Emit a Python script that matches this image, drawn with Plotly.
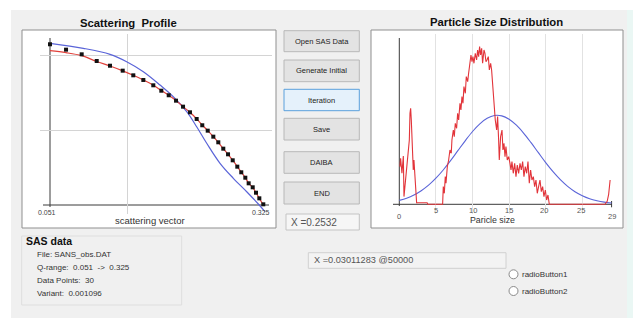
import plotly.graph_objects as go

# ---------------- data ----------------
# Scattering profile (left)
q_obs = [0.0510, 0.0716, 0.0917, 0.1110, 0.1281, 0.1444, 0.1580, 0.1709, 0.1837, 0.1940,
         0.2035, 0.2129, 0.2219, 0.2308, 0.2394, 0.2466, 0.2536, 0.2608, 0.2672, 0.2736,
         0.2797, 0.2857, 0.2916, 0.2967, 0.3019, 0.3062, 0.3114, 0.3156, 0.3199, 0.3250]
logI_obs = [2.143, 2.071, 2.009, 1.920, 1.857, 1.791, 1.729, 1.667, 1.596, 1.524,
            1.463, 1.391, 1.311, 1.236, 1.147, 1.063, 0.991, 0.911, 0.836, 0.751,
            0.676, 0.596, 0.511, 0.436, 0.364, 0.289, 0.236, 0.164, 0.089, 0.009]
logI_fit = [2.057, 2.031, 1.991, 1.913, 1.853, 1.789, 1.729, 1.667, 1.598, 1.526,
            1.463, 1.392, 1.312, 1.236, 1.148, 1.065, 0.992, 0.912, 0.836, 0.752,
            0.676, 0.597, 0.512, 0.437, 0.364, 0.290, 0.234, 0.163, 0.088, 0.000]
q_init = [0.0510, 0.0938, 0.1281, 0.1495, 0.1709, 0.1923, 0.2094, 0.2266, 0.2394, 0.2523,
          0.2694, 0.2865, 0.3037, 0.3186, 0.3272]
logI_init = [2.156, 2.089, 2.009, 1.911, 1.777, 1.600, 1.444, 1.244, 1.044, 0.823,
             0.556, 0.356, 0.177, 0.013, -0.089]

# Particle size distribution (right)
size_dist = [0.09, 0.18, 0.36, 0.55, 0.64, 0.91, 1.09, 1.23, 1.37, 1.46, 1.55, 1.64, 1.73, 1.82,
             1.91, 2.00, 2.14, 2.28, 2.37, 2.40, 3.80, 3.90, 5.92, 6.01, 6.15, 6.28, 6.38, 6.56,
             6.74, 6.92, 7.10, 7.19, 7.38, 7.51, 7.65, 7.83, 7.97, 8.11, 8.29, 8.42, 8.56, 8.70,
             8.83, 9.02, 9.15, 9.34, 9.47, 9.65, 9.79, 9.93, 10.06, 10.20, 10.38, 10.56, 10.70,
             10.84, 10.97, 11.11, 11.25, 11.38, 11.57, 11.70, 11.84, 11.98, 12.16, 12.30, 12.48,
             12.61, 12.75, 12.84, 12.98, 13.11, 13.30, 13.43, 13.57, 13.66, 13.84, 14.03, 14.16,
             14.30, 14.44, 14.57, 14.75, 14.94, 15.12, 15.26, 15.39, 15.57, 15.76, 15.94, 16.12,
             16.30, 16.49, 16.67, 16.85, 17.03, 17.21, 17.40, 17.58, 17.76, 17.94, 18.12, 18.31,
             18.49, 18.67, 18.85, 19.03, 19.22, 19.40, 19.58, 19.76, 19.95, 20.13, 20.31, 20.49,
             28.10, 28.40, 28.60, 28.80]
freq_dist = [37.7, 46.0, 31.0, 48.3, 7.7, 27.7, 41.0, 54.3, 64.3, 91.0, 96.0, 84.3, 64.3, 47.7,
             34.3, 44.3, 27.7, 14.3, 1.0, 1.5, 1.5, 0.0, 0.0, 17.7, 11.0, 27.7, 21.0, 37.7,
             44.3, 54.3, 51.0, 64.3, 74.3, 67.7, 81.0, 76.0, 91.0, 84.3, 101.0, 94.3, 107.7, 101.0,
             117.7, 111.0, 127.7, 122.7, 131.0, 141.0, 149.3, 142.7, 147.7, 141.0, 151.0, 144.3, 154.3,
             147.7, 157.7, 149.3, 156.0, 141.0, 154.3, 151.0, 142.7, 144.3, 147.7, 134.3, 141.0,
             134.3, 117.7, 111.0, 97.7, 84.3, 74.3, 87.7, 64.3, 44.3, 67.7, 74.3, 54.3,
             61.0, 47.7, 57.7, 44.3, 47.7, 41.0, 34.3, 42.7, 31.0, 41.0, 27.7, 39.3,
             31.0, 41.0, 34.3, 42.7, 27.7, 37.7, 31.0, 42.7, 21.0, 34.3, 24.3, 27.7,
             17.7, 24.3, 11.0, 17.7, 24.3, 12.7, 17.7, 7.7, 14.3, 4.3, 9.3, 0.0,
             0.0, 3.0, 10.0, 24.3]
size_init = list(range(0, 30))
freq_init = [3.9, 6.1, 9.3, 13.6, 19.1, 26.1, 34.3, 43.6, 53.6, 63.5, 72.8, 80.5, 86.0, 88.8,
             88.4, 85.1, 79.1, 71.0, 61.6, 51.6, 41.7, 32.6, 24.6, 17.9, 12.6, 8.6, 5.6, 3.6,
             2.2, 1.3]

left_ticks = ["0.051", "0.325"]
right_ticks = ["0", "5", "10", "15", "20", "25", "29"]
button_labels = ["Open SAS Data", "Generate Initial", "Iteration", "Save", "DAIBA", "END"]
info_lines = ["File: SANS_obs.DAT", "Q-range:\u00a0 0.051\u00a0 ->\u00a0 0.325",
              "Data Points:\u00a0 30", "Variant:\u00a0 0.001096"]

# ---------------- layout helpers ----------------
W, H = 633, 323
def PX(x): return x / W
def PY(y): return 1 - y / H

UI = "Liberation Sans, Arial, sans-serif"
shapes = []
ann = []

def rect(x0, y0, x1, y1, fill, line=None, lw=1, layer="below"):
    shapes.append(dict(type="rect", xref="paper", yref="paper",
                       x0=PX(x0), x1=PX(x1), y0=PY(y1), y1=PY(y0),
                       fillcolor=fill, line=dict(color=line or fill, width=lw if line else 0),
                       layer=layer))

def text(x, y, s, size=9, color="#222", bold=False, xanchor="center", yanchor="middle"):
    ann.append(dict(xref="paper", yref="paper", x=PX(x), y=PY(y), text=("<b>%s</b>" % s) if bold else s,
                    showarrow=False, xanchor=xanchor, yanchor=yanchor,
                    font=dict(family=UI, size=size, color=color)))

# background
rect(0, 0, 633, 323, "#ffffff")
rect(11, 10, 627, 318, "#f0f0f0")
rect(627, 10, 633, 318, "#eaf7f4")
# panels
rect(22, 30, 276, 228, "#ffffff", "#8f8f8f")
rect(371, 30, 623, 228, "#ffffff", "#8f8f8f")

# buttons
btn_y = [(30.7, 51.7), (60, 81.7), (89.3, 110.7), (118.3, 140), (151.7, 173.3), (182, 204)]
for lab, (y0, y1) in zip(button_labels, btn_y):
    if lab == "Iteration":
        rect(284, y0, 359.3, y1, "#e5f1fb", "#5aa0dc")
    else:
        rect(284, y0, 359.3, y1, "#e3e3e3", "#b8b8b8")
    text(321.6, (y0 + y1) / 2, lab, size=7.5)

# text boxes
rect(286, 214, 359.3, 230, "#f6f6f6", "#c4c4c4")
text(289, 222, "X =0.2532", size=10, color="#555", xanchor="left")
rect(308.3, 252.7, 506, 268.3, "#f3f3f3", "#d0d0d0")
text(312, 260, "X =0.03011283 @50000", size=9.2, color="#555", xanchor="left")

# SAS data group
rect(21.7, 236, 181.7, 305, "#f0f0f0", "#dedede")
text(23.5, 240.5, "SAS data", size=10.5, color="#111", bold=True, xanchor="left")
for i, s in enumerate(info_lines):
    text(35, 254.3 + i * 13.2, s, size=8, color="#333", xanchor="left")

# radio buttons
for i, yy in enumerate([274.3, 291]):
    shapes.append(dict(type="circle", xref="paper", yref="paper",
                       x0=PX(509), x1=PX(518), y0=PY(yy + 4.5), y1=PY(yy - 4.5),
                       fillcolor="#ffffff", line=dict(color="#8a8a8a", width=1), layer="below"))
    text(519.5, yy, "radioButton%d" % (i + 1), size=8, color="#333", xanchor="left")

# titles and axis labels
text(128, 22.7, "Scattering\u00a0\u00a0Profile", size=11.3, color="#111", bold=True)
text(496, 21.7, "Particle Size Distribution", size=11.3, color="#111", bold=True)
text(150, 220, "scattering vector", size=9.5, color="#333")
text(492.7, 220, "Paricle size", size=8.8, color="#333")

# tick labels
text(47, 212.7, left_ticks[0], size=7, color="#444")
text(261, 212.7, left_ticks[1], size=7, color="#444")
rt_x = [399.3, 436, 472.7, 509.3, 544.3, 581, 612.3]
rt_y = [216.7, 210.7, 210.7, 210.7, 210.7, 210.7, 216.7]
for s, xx, yy in zip(right_ticks, rt_x, rt_y):
    text(xx, yy, s, size=7.5, color="#555")

# ---------------- axes geometry ----------------
k = 0.274 / 213.3
lx_dom = (40, 272)
lx_rng = [0.051 + (lx_dom[0] - 50) * k, 0.051 + (lx_dom[1] - 50) * k]
y_dom = (34, 214)
ly_rng = [(205 - y_dom[1]) / 75, (205 - y_dom[0]) / 75]
rx_dom = (390, 618)
rx_rng = [(rx_dom[0] - 399.3) / 7.32, (rx_dom[1] - 399.3) / 7.32]
ry_rng = [204.3 - y_dom[1], 204.3 - y_dom[0]]

def dline(xref, yref, x0, y0, x1, y1, color="#3a3a3a", w=1, layer="below"):
    shapes.append(dict(type="line", xref=xref, yref=yref, x0=x0, y0=y0, x1=x1, y1=y1,
                       line=dict(color=color, width=w), layer=layer))

dline("x", "y", 0.051 + (43 - 50) * k, 0, 0.051 + (269 - 50) * k, 0)
dline("x", "y", 0.051, (205 - 207) / 75, 0.051, (205 - 38) / 75)
dline("x2", "y2", (393 - 399.3) / 7.32, 0, (612 - 399.3) / 7.32, 0)
dline("x2", "y2", 0, -1.7, 0, 166.3)
dline("x2", "y2", 29, -3, 29, 3.3)

fig = go.Figure()
fig.add_trace(go.Scatter(x=q_init, y=logI_init, mode="lines", line=dict(color="#5a64d8", width=1.2),
                         line_shape="spline", xaxis="x", yaxis="y", showlegend=False))
fig.add_trace(go.Scatter(x=q_obs, y=logI_fit, mode="lines", line=dict(color="#e0403a", width=1.2),
                         line_shape="spline", xaxis="x", yaxis="y", showlegend=False))
fig.add_trace(go.Scatter(x=q_obs, y=logI_obs, mode="markers",
                         marker=dict(symbol="square", size=4, color="#111111"),
                         xaxis="x", yaxis="y", showlegend=False))
fig.add_trace(go.Scatter(x=size_init, y=freq_init, mode="lines", line=dict(color="#5a64d8", width=1.1),
                         line_shape="spline", xaxis="x2", yaxis="y2", showlegend=False))
fig.add_trace(go.Scatter(x=size_dist, y=freq_dist, mode="lines", line=dict(color="#e2343a", width=1.1),
                         xaxis="x2", yaxis="y2", showlegend=False))

ax_common = dict(showline=False, zeroline=False, ticks="", showticklabels=False, fixedrange=True)
fig.update_layout(
    width=W, height=H, margin=dict(l=0, r=0, t=0, b=0),
    paper_bgcolor="#ffffff", plot_bgcolor="rgba(0,0,0,0)",
    xaxis=dict(domain=[PX(lx_dom[0]), PX(lx_dom[1])], range=lx_rng, anchor="y",
               tickvals=[0.151], showgrid=True, gridcolor="#d4d4d4", gridwidth=1, **ax_common),
    yaxis=dict(domain=[PY(y_dom[1]), PY(y_dom[0])], range=ly_rng, anchor="x",
               tickvals=[1, 2], showgrid=True, gridcolor="#d4d4d4", gridwidth=1, **ax_common),
    xaxis2=dict(domain=[PX(rx_dom[0]), PX(rx_dom[1])], range=rx_rng, anchor="y2",
                tickvals=[5, 10, 15, 20, 25], showgrid=True, gridcolor="#e2e2e2", gridwidth=1, **ax_common),
    yaxis2=dict(domain=[PY(y_dom[1]), PY(y_dom[0])], range=ry_rng, anchor="x2",
                showgrid=False, **ax_common),
    shapes=shapes, annotations=ann,
)
fig.write_html("out.html")
